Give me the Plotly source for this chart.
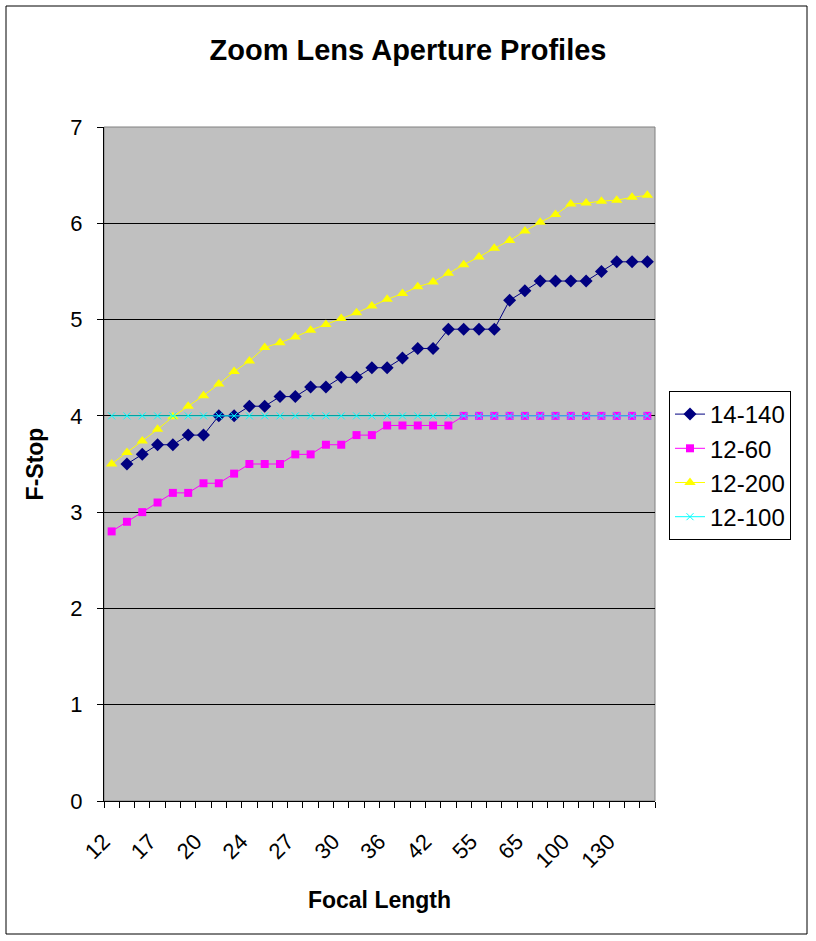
import plotly.graph_objects as go

# focal lengths (category axis) - only every third one is labelled on the chart
focal = ["12", "14", "15", "17", "18", "19", "20", "21", "22", "24", "25", "26",
         "27", "28", "29", "30", "32", "34", "36", "38", "40", "42", "45", "50",
         "55", "58", "60", "65", "70", "80", "100", "110", "120", "130", "135", "140"]
tick_labels = ["12", "17", "20", "24", "27", "30", "36", "42", "55", "65", "100", "130"]

f_14_140 = [None, 3.5, 3.6, 3.7, 3.7, 3.8, 3.8, 4.0, 4.0, 4.1, 4.1, 4.2,
            4.2, 4.3, 4.3, 4.4, 4.4, 4.5, 4.5, 4.6, 4.7, 4.7, 4.9, 4.9,
            4.9, 4.9, 5.2, 5.3, 5.4, 5.4, 5.4, 5.4, 5.5, 5.6, 5.6, 5.6]
f_12_60 = [2.8, 2.9, 3.0, 3.1, 3.2, 3.2, 3.3, 3.3, 3.4, 3.5, 3.5, 3.5,
           3.6, 3.6, 3.7, 3.7, 3.8, 3.8, 3.9, 3.9, 3.9, 3.9, 3.9, 4.0,
           4.0, 4.0, 4.0, 4.0, 4.0, 4.0, 4.0, 4.0, 4.0, 4.0, 4.0, 4.0]
f_12_200 = [3.5, 3.62, 3.74, 3.86, 3.99, 4.1, 4.21, 4.33, 4.46, 4.57, 4.71, 4.76,
            4.82, 4.89, 4.95, 5.01, 5.07, 5.14, 5.21, 5.27, 5.34, 5.39, 5.48, 5.57,
            5.65, 5.74, 5.82, 5.92, 6.01, 6.09, 6.2, 6.21, 6.23, 6.24, 6.27, 6.29]
f_12_100 = [4.0, 4.0, 4.0, 4.0, 4.0, 4.0, 4.0, 4.0, 4.0, 4.0, 4.0, 4.0,
            4.0, 4.0, 4.0, 4.0, 4.0, 4.0, 4.0, 4.0, 4.0, 4.0, 4.0, 4.0,
            4.0, 4.0, 4.0, 4.0, 4.0, 4.0, 4.0, 4.0, 4.0, 4.0, 4.0, 4.0]

FONT = "Liberation Sans, Arial, sans-serif"

fig = go.Figure()
fig.add_trace(go.Scatter(x=focal, y=f_14_140, name="14-140", mode="lines+markers",
                         line=dict(color="#000080", width=1),
                         marker=dict(symbol="diamond", size=10, color="#000080")))
fig.add_trace(go.Scatter(x=focal, y=f_12_60, name="12-60", mode="lines+markers",
                         line=dict(color="#FF00FF", width=1),
                         marker=dict(symbol="square", size=8, color="#FF00FF")))
fig.add_trace(go.Scatter(x=focal, y=f_12_200, name="12-200", mode="lines+markers",
                         line=dict(color="#FFFF00", width=1),
                         marker=dict(symbol="triangle-up", size=10, color="#FFFF00")))
fig.add_trace(go.Scatter(x=focal, y=f_12_100, name="12-100", mode="lines+markers",
                         line=dict(color="#00FFFF", width=1),
                         marker=dict(symbol="x-thin", size=7, line=dict(color="#00FFFF", width=1))))
# dummy trace so the boundary-tick axis gets drawn
fig.add_trace(go.Scatter(x=[0], y=[None], xaxis="x2", showlegend=False, hoverinfo="skip"))

fig.update_layout(
    width=816, height=941,
    margin=dict(l=104, r=161, t=127, b=140),
    paper_bgcolor="white",
    plot_bgcolor="#C0C0C0",
    font=dict(family=FONT, color="black", size=22),
    title=dict(text="<b>Zoom Lens Aperture Profiles</b>", x=0.5, xanchor="center",
               y=1 - 50 / 941, yanchor="middle", font=dict(size=29)),
    xaxis=dict(type="category", tickmode="array", tickvals=tick_labels, ticktext=tick_labels,
               tickangle=-45, ticks="", showgrid=False, showline=True, linecolor="black",
               linewidth=1, range=[-0.5, len(focal) - 0.5], ticklabelstandoff=18,
               ticklabelshift=-8,
               title=dict(text="<b>Focal Length</b>", font=dict(size=23), standoff=20)),
    xaxis2=dict(overlaying="x", anchor="y", side="bottom", range=[-0.5, len(focal) - 0.5],
                tickmode="linear", tick0=-0.5, dtick=1, ticks="outside", ticklen=6,
                tickcolor="black", showticklabels=False, showgrid=False, zeroline=False),
    yaxis=dict(range=[0, 7], dtick=1, ticks="outside", ticklen=6, tickcolor="black",
               showgrid=True, gridcolor="black", gridwidth=1, zeroline=False,
               showline=True, linecolor="black", linewidth=1, ticklabelstandoff=10,
               title=dict(text="<b>F-Stop</b>", font=dict(size=23), standoff=20)),
    legend=dict(x=(669 - 104) / 551, y=(801 - 391) / 674, xanchor="left", yanchor="top",
                bgcolor="white", bordercolor="black", borderwidth=1,
                font=dict(size=24), tracegroupgap=0, entrywidth=100),
    shapes=[
        # grey plot-area border (top/right)
        dict(type="rect", xref="paper", yref="paper", x0=0, y0=0, x1=1, y1=1,
             line=dict(color="#808080", width=1), layer="below"),
        # outer chart border
        dict(type="rect", xref="paper", yref="paper",
             x0=(6 - 104) / 551, x1=(807 - 104) / 551,
             y0=(801 - 934) / 674, y1=(801 - 6) / 674,
             line=dict(color="black", width=1)),
    ],
)

fig.write_html("out.html", config={"displayModeBar": False},
               post_script="document.body.style.margin='0';")
